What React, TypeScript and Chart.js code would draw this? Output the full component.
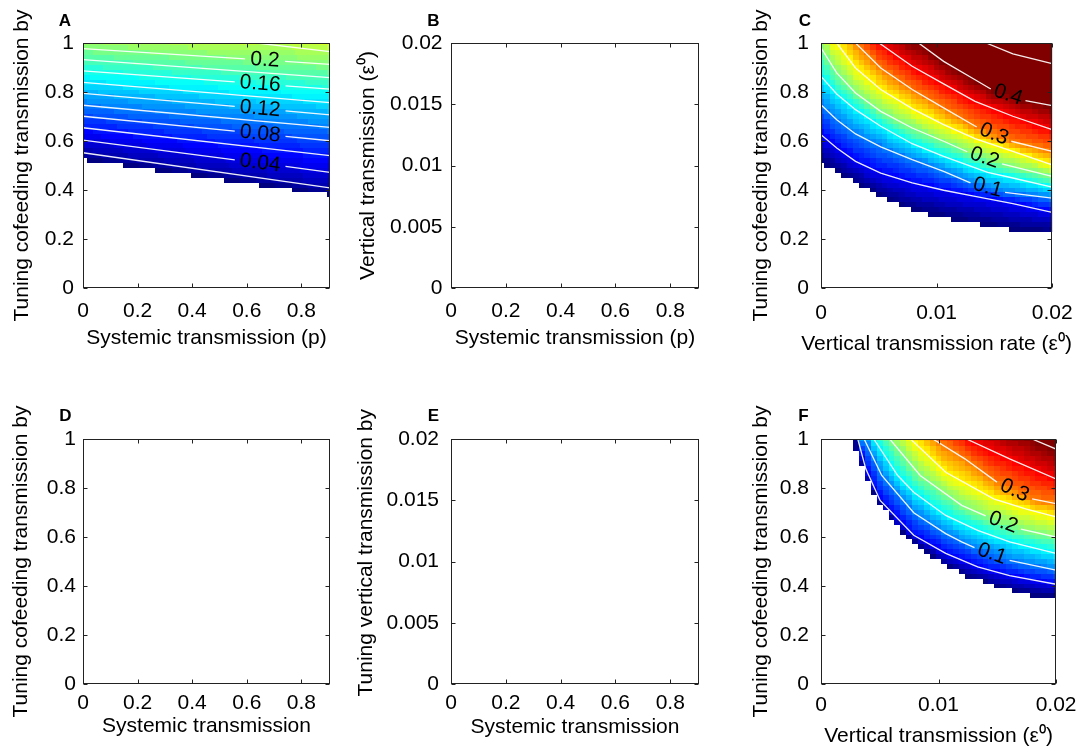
import React, { useEffect, useRef } from "react";
import { Chart, registerables } from "chart.js";

Chart.register(...registerables);

const FONT = "'Liberation Sans', Arial, Helvetica, sans-serif";

type Pt = [number, number] | null;

// ---------- tick values / labels ----------
const unitTicks = [0, 0.2, 0.4, 0.6, 0.8, 1];
const unitTickLabels = ["0", "0.2", "0.4", "0.6", "0.8", "1"];
const pTicks = [0, 0.2, 0.4, 0.6, 0.8];
const pTickLabels = ["0", "0.2", "0.4", "0.6", "0.8"];
const epsTicks = [0, 0.005, 0.01, 0.015, 0.02];
const epsTickLabels = ["0", "0.005", "0.01", "0.015", "0.02"];
const epsXTicks = [0, 0.01, 0.02];
const epsXTickLabels = ["0", "0.01", "0.02"];

// ---------- panel A : contour lines (x = p, y = tuning) ----------
const levelsA = [0.02, 0.04, 0.06, 0.08, 0.1, 0.12, 0.14, 0.16, 0.18, 0.2, 0.22];
const contoursA: Pt[][] = [
  [[0, 0.552], [0.905, 0.409]],
  [[0, 0.604], [0.556, 0.523], null, [0.742, 0.496], [0.905, 0.472]],
  [[0, 0.654], [0.905, 0.54]],
  [[0, 0.701], [0.556, 0.64], null, [0.742, 0.619], [0.905, 0.601]],
  [[0, 0.746], [0.905, 0.656]],
  [[0, 0.794], [0.556, 0.741], null, [0.742, 0.723], [0.905, 0.707]],
  [[0, 0.839], [0.905, 0.757]],
  [[0, 0.886], [0.556, 0.841], null, [0.742, 0.825], [0.905, 0.812]],
  [[0, 0.932], [0.905, 0.859]],
  [[0, 0.977], [0.594, 0.935], null, [0.74, 0.925], [0.905, 0.913]],
  [[0.637, 1.0], [0.905, 0.965]],
];
const labelsA: [number, string][] = [[1, "0.04"], [3, "0.08"], [5, "0.12"], [7, "0.16"], [9, "0.2"]];
const boundaryA: [number, number][] = [[0, 0.523], [0.905, 0.378]];

// ---------- panel C ----------
const levelsC = [0.05, 0.1, 0.15, 0.2, 0.25, 0.3, 0.35, 0.4, 0.45];
const contoursC: Pt[][] = [
  [[0, 0.626], [0.00136, 0.571], [0.00299, 0.517], [0.00517, 0.469], [0.00789, 0.429], [0.01061, 0.399], [0.01333, 0.374], [0.0166, 0.344], [0.02, 0.309]],
  [[0, 0.748], [0.00136, 0.687], [0.00299, 0.629], [0.00517, 0.576], [0.00789, 0.524], [0.01061, 0.476], [0.01293, 0.429], null, [0.01592, 0.39], [0.02, 0.367]],
  [[0, 0.864], [0.00136, 0.792], [0.00299, 0.728], [0.00517, 0.66], [0.00789, 0.589], [0.01061, 0.537], [0.01442, 0.472], [0.0166, 0.449], [0.02, 0.412]],
  [[0, 0.98], [0.00136, 0.878], [0.00299, 0.796], [0.00517, 0.721], [0.00789, 0.653], [0.01061, 0.599], [0.01265, 0.556], null, [0.01565, 0.507], [0.02, 0.456]],
  [[0.00136, 1.0], [0.00299, 0.898], [0.00517, 0.81], [0.00789, 0.732], [0.01061, 0.667], [0.01333, 0.61], [0.0166, 0.558], [0.02, 0.503]],
  [[0.00299, 1.0], [0.00517, 0.898], [0.00789, 0.81], [0.01061, 0.735], [0.01347, 0.657], null, [0.01646, 0.599], [0.02, 0.558]],
  [[0.00503, 1.0], [0.00789, 0.905], [0.01061, 0.833], [0.01333, 0.762], [0.0166, 0.701], [0.02, 0.646]],
  [[0.00844, 1.0], [0.01061, 0.925], [0.01333, 0.85], [0.01469, 0.812], null, [0.01769, 0.765], [0.02, 0.744]],
  [[0.01429, 1.0], [0.0166, 0.956], [0.02, 0.916]],
];
const labelsC: [number, string][] = [[1, "0.1"], [3, "0.2"], [5, "0.3"], [7, "0.4"]];
const boundaryC: [number, number][] = [[0, 0.512], [0.0027, 0.435], [0.0054, 0.365], [0.0078, 0.315], [0.0098, 0.295], [0.0118, 0.275], [0.0143, 0.255], [0.017, 0.235], [0.02, 0.228]];

// ---------- panel F ----------
const levelsF = [0.05, 0.1, 0.15, 0.2, 0.25, 0.3, 0.35, 0.4];
const contoursF: Pt[][] = [
  [[0.00313, 1], [0.00381, 0.878], [0.00503, 0.749], [0.00789, 0.607], [0.01061, 0.533], [0.01333, 0.478], [0.01605, 0.442], [0.02, 0.407]],
  [[0.00367, 1], [0.00517, 0.851], [0.00789, 0.699], [0.01061, 0.614], [0.01197, 0.58], [0.01306, 0.557], null, [0.01605, 0.505], [0.02, 0.465]],
  [[0.00449, 1], [0.00653, 0.851], [0.00789, 0.783], [0.01061, 0.688], [0.01333, 0.627], [0.01605, 0.58], [0.02, 0.533]],
  [[0.00585, 1], [0.00844, 0.851], [0.01197, 0.729], [0.01401, 0.686], null, [0.01701, 0.632], [0.02, 0.6]],
  [[0.00762, 1], [0.01061, 0.864], [0.01469, 0.756], [0.01741, 0.715], [0.02, 0.682]],
  [[0.00952, 1], [0.01224, 0.919], [0.01497, 0.824], null, [0.01796, 0.756], [0.02, 0.736]],
  [[0.01238, 1], [0.01605, 0.919], [0.02, 0.837]],
  [[0.01796, 1], [0.02, 0.959]],
];
const labelsF: [number, string][] = [[1, "0.1"], [3, "0.2"], [5, "0.3"]];
const boundaryF: [number, number][] = [[0.00286, 1.01], [0.00299, 0.951], [0.0034, 0.897], [0.00408, 0.815], [0.00503, 0.734], [0.00626, 0.653], [0.00748, 0.592], [0.00898, 0.538], [0.01034, 0.49], [0.01224, 0.443], [0.01469, 0.402], [0.01633, 0.378], [0.01823, 0.357], [0.02, 0.355]];

const COLOR_MAX = 0.4;

interface Heat {
  levels: number[];
  contours: Pt[][];
  labels: [number, string][];
  boundary: [number, number][];
  dx: number;
  dy: number;
}

interface PanelCfg {
  letter: string;
  lx: number; ly: number;
  cx: number; cy: number; cw: number; ch: number;
  plot: { l: number; t: number; r: number; b: number };
  xMax: number; xTicks: number[]; xTickLabels: string[];
  yMax: number; yTicks: number[]; yTickLabels: string[];
  xTitle: string; yTitle: string;
  xTitleMid: number; yTitleMid: number;
  xTickPad: number; yTickPad: number;
  heat?: Heat;
}

const PANELS: PanelCfg[] = [
  {
    letter: "A", lx: 65, ly: 21, cx: 0, cy: 0, cw: 350, ch: 377,
    plot: { l: 83, t: 43, r: 330, b: 288 },
    xMax: 0.905, xTicks: pTicks, xTickLabels: pTickLabels,
    yMax: 1, yTicks: unitTicks, yTickLabels: unitTickLabels,
    xTitle: "Systemic transmission (p)", yTitle: "Tuning cofeeding transmission by",
    xTitleMid: 338, yTitleMid: 22, xTickPad: 11, yTickPad: 9,
    heat: { levels: levelsA, contours: contoursA, labels: labelsA, boundary: boundaryA, dx: 0.01, dy: 0.02 },
  },
  {
    letter: "B", lx: 433.5, ly: 21, cx: 350, cy: 0, cw: 385, ch: 377,
    plot: { l: 451, t: 43, r: 699, b: 288 },
    xMax: 0.905, xTicks: pTicks, xTickLabels: pTickLabels,
    yMax: 0.02, yTicks: epsTicks, yTickLabels: epsTickLabels,
    xTitle: "Systemic transmission (p)", yTitle: "Vertical transmission (\u03b5\u2070)",
    xTitleMid: 338, yTitleMid: 368, xTickPad: 11, yTickPad: 8.5,
  },
  {
    letter: "C", lx: 805, ly: 21, cx: 735, cy: 0, cw: 350, ch: 377,
    plot: { l: 821, t: 43, r: 1068, b: 288 },
    xMax: 0.02, xTicks: epsXTicks, xTickLabels: epsXTickLabels,
    yMax: 1, yTicks: unitTicks, yTickLabels: unitTickLabels,
    xTitle: "Vertical transmission rate (\u03b5\u2070)", yTitle: "Tuning cofeeding transmission by",
    xTitleMid: 344, yTitleMid: 761, xTickPad: 12.4, yTickPad: 12,
    heat: { levels: levelsC, contours: contoursC, labels: labelsC, boundary: boundaryC, dx: 0.0005, dy: 0.02 },
  },
  {
    letter: "D", lx: 65.5, ly: 416, cx: 0, cy: 377, cw: 350, ch: 377,
    plot: { l: 83, t: 439, r: 330, b: 684 },
    xMax: 0.905, xTicks: pTicks, xTickLabels: pTickLabels,
    yMax: 1, yTicks: unitTicks, yTickLabels: unitTickLabels,
    xTitle: "Systemic transmission", yTitle: "Tuning cofeeding transmission by",
    xTitleMid: 726, yTitleMid: 21, xTickPad: 7, yTickPad: 7,
  },
  {
    letter: "E", lx: 433.5, ly: 416, cx: 350, cy: 377, cw: 385, ch: 377,
    plot: { l: 451, t: 439, r: 699, b: 684 },
    xMax: 0.905, xTicks: pTicks, xTickLabels: pTickLabels,
    yMax: 0.02, yTicks: epsTicks, yTickLabels: epsTickLabels,
    xTitle: "Systemic transmission", yTitle: "   Tuning vertical transmission by",
    xTitleMid: 727.5, yTitleMid: 366.5, xTickPad: 6.5, yTickPad: 12,
  },
  {
    letter: "F", lx: 803.5, ly: 416, cx: 735, cy: 377, cw: 350, ch: 377,
    plot: { l: 821, t: 439, r: 1068, b: 684 },
    xMax: 0.02, xTicks: epsXTicks, xTickLabels: epsXTickLabels,
    yMax: 1, yTicks: unitTicks, yTickLabels: unitTickLabels,
    xTitle: "Vertical transmission (\u03b5\u2070)", yTitle: "Tuning cofeeding transmission by",
    xTitleMid: 736, yTitleMid: 761, xTickPad: 8.5, yTickPad: 12,
    heat: { levels: levelsF, contours: contoursF, labels: labelsF, boundary: boundaryF, dx: 0.0005, dy: 0.02 },
  },
];

// ---------- helpers ----------
function jet(t: number): string {
  const tc = Math.max(0, Math.min(1, t));
  const k = Math.min(63, Math.floor(tc * 64));
  const u = k / 63;
  const f = (v: number) => Math.round(255 * Math.max(0, Math.min(1, v)));
  const r = f(Math.min(4 * u - 1.5, -4 * u + 4.5));
  const g = f(Math.min(4 * u - 0.5, -4 * u + 3.5));
  const b = f(Math.min(4 * u + 0.5, -4 * u + 2.5));
  return `rgb(${r},${g},${b})`;
}

function yOnLine(pts: Pt[], x: number): number | null {
  const p = pts.filter((q) => q !== null) as [number, number][];
  if (!p.length) return null;
  if (x < p[0][0] - 1e-12 || x > p[p.length - 1][0] + 1e-12) return null;
  for (let i = 0; i < p.length - 1; i++) {
    const [x0, y0] = p[i];
    const [x1, y1] = p[i + 1];
    if (x >= x0 - 1e-12 && x <= x1 + 1e-12) {
      return x1 === x0 ? y0 : y0 + ((y1 - y0) * (x - x0)) / (x1 - x0);
    }
  }
  return p[p.length - 1][1];
}

function valueFromProfile(prof: { y: number; v: number }[], yc: number): number {
  if (prof.length < 2) return 0.01;
  for (let i = 0; i < prof.length - 1; i++) {
    const a = prof[i];
    const b = prof[i + 1];
    if (yc <= b.y) return a.v + ((b.v - a.v) * (yc - a.y)) / (b.y - a.y);
  }
  const a = prof[prof.length - 2];
  const b = prof[prof.length - 1];
  return b.v + ((b.v - a.v) * (yc - b.y)) / (b.y - a.y);
}

function Panel({ cfg }: { cfg: PanelCfg }) {
  const ref = useRef<HTMLCanvasElement | null>(null);

  useEffect(() => {
    const canvas = ref.current;
    if (!canvas) return;
    const W = cfg.cw;
    const H = cfg.ch;
    const pl = cfg.plot.l - cfg.cx;
    const pr = cfg.plot.r - cfg.cx;
    const pt = cfg.plot.t - cfg.cy;
    const pb = cfg.plot.b - cfg.cy;
    const LH = 21 * 1.2;
    const xScaleH = cfg.xTitleMid - cfg.cy + LH / 2 - pb;
    const yTitlePad = cfg.yTitleMid - cfg.cx - LH / 2;
    const heat = cfg.heat;

    const heatPlugin = {
      id: "heatmap",
      beforeDatasetsDraw(chart: any) {
        if (!heat) return;
        const { ctx, chartArea: a } = chart;
        const xs = chart.scales.x;
        const ys = chart.scales.y;
        ctx.save();
        ctx.beginPath();
        ctx.rect(a.left, a.top, a.right - a.left, a.bottom - a.top);
        ctx.clip();
        const nx = Math.round(cfg.xMax / heat.dx);
        const ny = Math.round(cfg.yMax / heat.dy);
        for (let i = 0; i <= nx; i++) {
          const xc = i * heat.dx;
          const yb = yOnLine(heat.boundary as Pt[], xc);
          if (yb === null) continue;
          const prof: { y: number; v: number }[] = [{ y: yb, v: 0 }];
          heat.contours.forEach((ln, k) => {
            const yy = yOnLine(ln, xc);
            if (yy !== null && yy > prof[prof.length - 1].y) prof.push({ y: yy, v: heat.levels[k] });
          });
          const px0 = Math.round(xs.getPixelForValue(xc - heat.dx / 2));
          const px1 = Math.round(xs.getPixelForValue(xc + heat.dx / 2));
          for (let j = 0; j <= ny; j++) {
            const yc = j * heat.dy;
            if (yc < yb) continue;
            const v = valueFromProfile(prof, yc);
            ctx.fillStyle = jet(v / COLOR_MAX);
            const py0 = Math.round(ys.getPixelForValue(yc - heat.dy / 2));
            const py1 = Math.round(ys.getPixelForValue(yc + heat.dy / 2));
            ctx.fillRect(px0, py1, px1 - px0, py0 - py1);
          }
        }
        ctx.restore();
      },
    };

    const framePlugin = {
      id: "frame",
      afterDatasetsDraw(chart: any) {
        const { ctx, chartArea: a } = chart;
        const xs = chart.scales.x;
        const ys = chart.scales.y;
        if (heat) {
          ctx.save();
          ctx.font = `21px ${FONT}`;
          ctx.fillStyle = "#000";
          ctx.textAlign = "center";
          ctx.textBaseline = "middle";
          heat.labels.forEach(([li, text]) => {
            const line = heat.contours[li];
            const gi = line.indexOf(null);
            const p1 = line[gi - 1] as [number, number];
            const p2 = line[gi + 1] as [number, number];
            const x1 = xs.getPixelForValue(p1[0]);
            const y1 = ys.getPixelForValue(p1[1]);
            const x2 = xs.getPixelForValue(p2[0]);
            const y2 = ys.getPixelForValue(p2[1]);
            ctx.save();
            ctx.translate((x1 + x2) / 2, (y1 + y2) / 2);
            ctx.rotate(Math.atan2(y2 - y1, x2 - x1));
            ctx.fillText(text, 0, 0);
            ctx.restore();
          });
          ctx.restore();
        }
        ctx.save();
        ctx.strokeStyle = "#222";
        ctx.lineWidth = 1;
        const L = Math.round(a.left) + 0.5;
        const R = Math.round(a.right) - 0.5;
        const T = Math.round(a.top) + 0.5;
        const B = Math.round(a.bottom) - 0.5;
        ctx.strokeRect(L, T, R - L, B - T);
        const tl = 4;
        ctx.beginPath();
        cfg.xTicks.forEach((v) => {
          const px = Math.round(xs.getPixelForValue(v)) + 0.5;
          ctx.moveTo(px, B); ctx.lineTo(px, B - tl);
          ctx.moveTo(px, T); ctx.lineTo(px, T + tl);
        });
        cfg.yTicks.forEach((v) => {
          const py = Math.round(ys.getPixelForValue(v)) + 0.5;
          ctx.moveTo(L, py); ctx.lineTo(L + tl, py);
          ctx.moveTo(R, py); ctx.lineTo(R - tl, py);
        });
        ctx.stroke();
        ctx.restore();
      },
      afterDraw(chart: any) {
        const ctx = chart.ctx;
        const a = chart.chartArea;
        ctx.save();
        ctx.fillStyle = "#000";
        ctx.textAlign = "center";
        ctx.textBaseline = "middle";
        ctx.font = `21px ${FONT}`;
        ctx.fillText(cfg.xTitle, (a.left + a.right) / 2, cfg.xTitleMid - cfg.cy);
        ctx.font = `bold 17px ${FONT}`;
        ctx.fillText(cfg.letter, cfg.lx - cfg.cx, cfg.ly - cfg.cy);
        ctx.restore();
      },
    };

    const datasets = (heat ? heat.contours : []).map((ln) => ({
      type: "line" as const,
      data: ln.map((q) => (q ? { x: q[0], y: q[1] } : { x: null as any, y: null as any })),
      borderColor: "rgba(255,255,255,0.92)",
      borderWidth: 1.3,
      pointRadius: 0,
      pointHoverRadius: 0,
      spanGaps: false,
      tension: 0,
      fill: false,
    }));

    const tickFont = { family: FONT, size: 21 };

    const chart = new Chart(canvas, {
      type: "scatter",
      data: { datasets: datasets as any },
      options: {
        responsive: false,
        animation: false,
        events: [],
        layout: {
          autoPadding: false,
          padding: { left: 0, top: pt, right: W - pr, bottom: H - pb - xScaleH },
        },
        plugins: { legend: { display: false }, tooltip: { enabled: false } },
        scales: {
          x: {
            type: "linear",
            min: 0,
            max: cfg.xMax,
            afterFit: (s: any) => { s.height = xScaleH; },
            afterBuildTicks: (s: any) => { s.ticks = cfg.xTicks.map((v) => ({ value: v })); },
            ticks: {
              callback: (_v: any, i: number) => cfg.xTickLabels[i],
              font: tickFont, color: "#000", padding: cfg.xTickPad,
              maxRotation: 0, minRotation: 0, autoSkip: false,
            },
            grid: { display: false, drawTicks: false },
            border: { display: false },
            title: { display: false },
          },
          y: {
            type: "linear",
            min: 0,
            max: cfg.yMax,
            afterFit: (s: any) => { s.width = pl; },
            afterBuildTicks: (s: any) => { s.ticks = cfg.yTicks.map((v) => ({ value: v })); },
            ticks: {
              callback: (_v: any, i: number) => cfg.yTickLabels[i],
              font: tickFont, color: "#000", padding: cfg.yTickPad, autoSkip: false,
            },
            grid: { display: false, drawTicks: false },
            border: { display: false },
            title: { display: true, text: cfg.yTitle, font: tickFont, color: "#000", padding: { top: yTitlePad, bottom: 0 } },
          },
        },
      } as any,
      plugins: [heatPlugin, framePlugin],
    });
    return () => chart.destroy();
  }, [cfg]);

  return (
    <canvas
      ref={ref}
      width={cfg.cw}
      height={cfg.ch}
      style={{ position: "absolute", left: cfg.cx, top: cfg.cy, width: cfg.cw, height: cfg.ch }}
    />
  );
}

export default function App() {
  return (
    <div style={{ position: "absolute", left: 0, top: 0, width: 1085, height: 754, background: "#fff", overflow: "hidden" }}>
      {PANELS.map((p) => (
        <Panel key={p.letter} cfg={p} />
      ))}
    </div>
  );
}
